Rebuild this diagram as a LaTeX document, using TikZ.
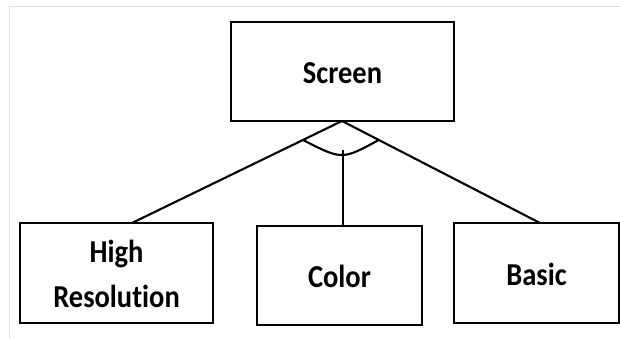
\documentclass[tikz,border=0pt]{standalone}
\usepackage{fontspec}
\setmainfont{Carlito}[Ligatures=NoCommon]
\usetikzlibrary{calc}
\begin{document}
\begin{tikzpicture}[x=1pt,y=-1pt,
  box/.style={draw=black,line width=2.2pt,fill=white,inner sep=0pt},
  lbl/.style={font=\fontsize{28.5}{40}\selectfont\bfseries,align=center,yscale=1.12},
  link/.style={line width=2.1pt,draw=black}]
  % canvas and thin frame
  \useasboundingbox (0,0) rectangle (620,339);
  \fill[white] (0,0) rectangle (620,339);
  \draw[draw={rgb,255:red,220;green,220;blue,220},line width=1pt] (9.5,339) -- (9.5,7) -- (620,7);

  % boxes
  \node[box,minimum width=223pt,minimum height=99pt] (screen) at (342.5,71.5) {};
  \node[box,minimum width=193pt,minimum height=100pt] (hires) at (116.5,273) {};
  \node[box,minimum width=165pt,minimum height=99pt] (color) at (339.5,275.5) {};
  \node[box,minimum width=165pt,minimum height=100pt] (basic) at (536.5,273) {};

  % labels
  \node[lbl] (tscreen) at ($(screen.center)+(0,2)$) {Screen};
  \node[lbl] (thires) at ($(hires.center)+(0,1)$) {High\\Resolution};
  \node[lbl] (tcolor) at ($(color.center)+(0,1)$) {Color};
  \node[lbl] (tbasic) at ($(basic.center)+(0,1)$) {Basic};

  % connectors from the apex under Screen
  \coordinate (apex) at (342,121);
  \coordinate (hl) at (132,223);
  \coordinate (cl) at (343,226);
  \coordinate (bl) at (540,223);
  \draw[link] (apex) -- (hl);
  \draw[link] (apex) -- (bl);
  \coordinate (arcmid) at (343,150);
  \draw[link] (arcmid) -- (cl);
  % arc joining the branches
  \coordinate (al) at ($(apex)!0.186!(hl)$);
  \coordinate (ar) at ($(apex)!0.186!(bl)$);
  \draw[link] (al) .. controls (342,160) .. (ar);
\end{tikzpicture}
\end{document}
